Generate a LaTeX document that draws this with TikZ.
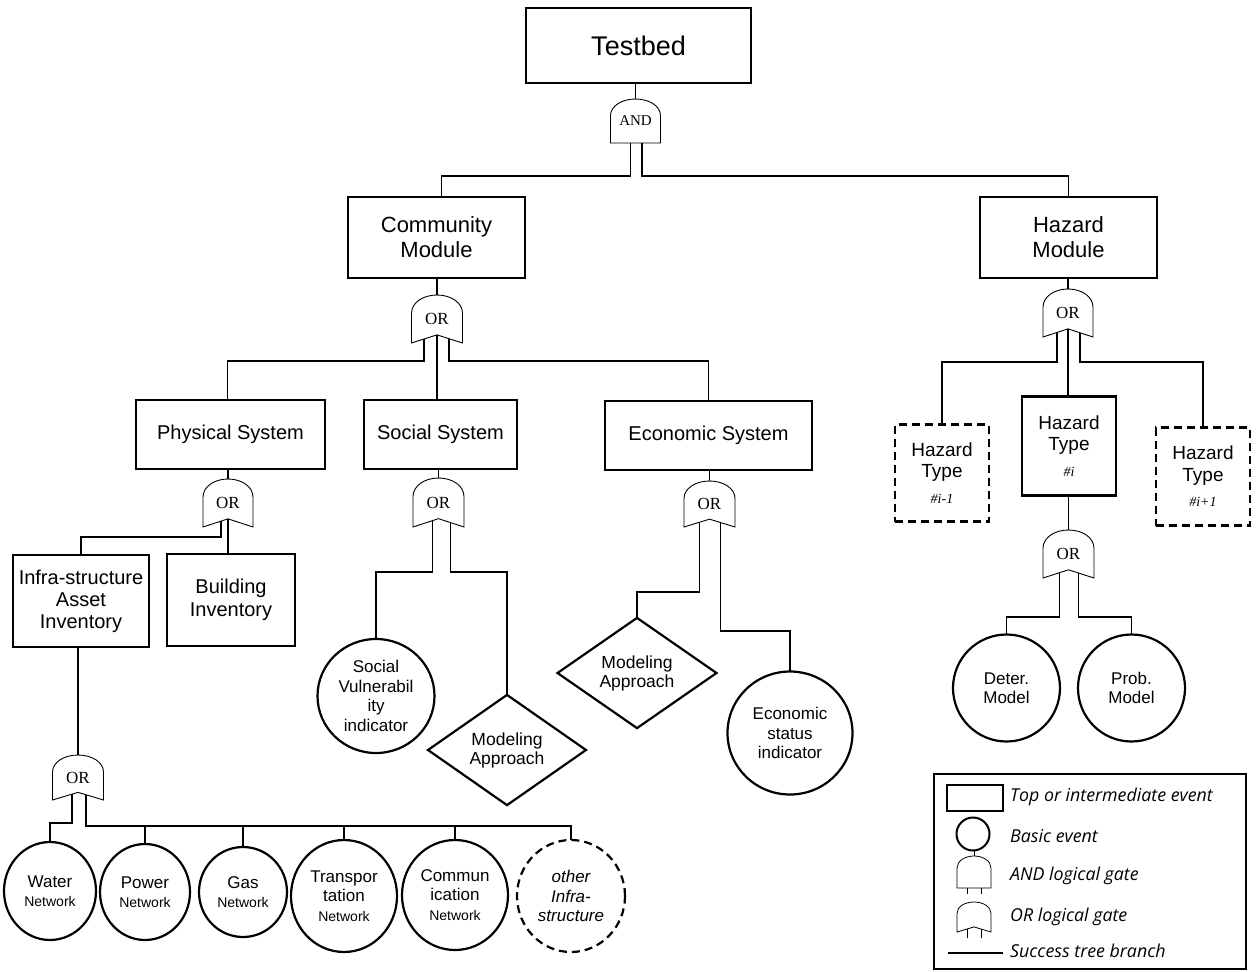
\documentclass[tikz,border=0pt]{standalone}
\usepackage{fontspec}
\setmainfont{Liberation Sans}
\newfontfamily\gatefont{Liberation Serif}
\newfontfamily\legendfont{Open Sans}
\usetikzlibrary{calc,shapes.geometric}

% Gate outlines drawn around a (borderless) gate node
\newcommand{\gatedome}[1]{%
  (#1.south west) -- ($(#1.south west)!0.62!(#1.north west)$)
  .. controls ($(#1.south west)!0.84!(#1.north west)$) and ($(#1.north)!0.55!(#1.north west)$) .. (#1.north)
  .. controls ($(#1.north)!0.55!(#1.north east)$) and ($(#1.south east)!0.84!(#1.north east)$) .. ($(#1.south east)!0.62!(#1.north east)$)
  -- (#1.south east)}
\newcommand{\andgate}[2][]{\draw[gateline,#1] \gatedome{#2} -- cycle;}
\newcommand{\orgate}[2][]{\draw[gateline,#1] \gatedome{#2} -- ($(#2.south)!0.17!(#2.north)$) -- cycle;}

\begin{document}
\begin{tikzpicture}[x=1pt,y=-1pt,
  event/.style={draw,rectangle,line width=2.4pt,inner sep=0pt,outer sep=0pt,align=center,
                font=\fontsize{20}{23}\selectfont},
  module/.style={event,font=\fontsize{22}{25}\selectfont},
  hazbox/.style={event,font=\fontsize{19}{21.5}\selectfont},
  maybe/.style={dash pattern=on 8pt off 5pt},
  basic/.style={draw,ellipse,line width=2.2pt,inner sep=0pt,outer sep=0pt,align=center,
                font=\fontsize{17}{19.5}\selectfont},
  approach/.style={draw,diamond,line width=2.2pt,inner sep=0pt,outer sep=0pt,align=center,
                font=\fontsize{17.5}{19}\selectfont},
  gate/.style={inner sep=0pt,outer sep=0pt,font=\gatefont\fontsize{17}{17}\selectfont},
  gateline/.style={line width=0.9pt},
  branch/.style={line width=1.3pt},
  legendtext/.style={anchor=west,inner sep=0pt,font=\legendfont\itshape\fontsize{17.8}{19}\selectfont},
]
\useasboundingbox (0,0) rectangle (1259,972);

% ---------- events ----------
\node[event,minimum width=225pt,minimum height=75pt,font=\fontsize{27}{30}\selectfont] (tb) at (638.5,45.5) {Testbed};
\node[module,minimum width=177pt,minimum height=81pt] (cm) at (436.5,237.5) {Community\\Module};
\node[module,minimum width=177pt,minimum height=81pt] (hm) at (1068.5,237.5) {Hazard\\Module};

\node[event,minimum width=189pt,minimum height=69pt] (ps) at (230.5,434.5) {Physical System};
\node[event,minimum width=153pt,minimum height=69pt] (ss) at (440.5,434.5) {Social System};
\node[event,minimum width=207pt,minimum height=69pt] (es) at (708.5,435.5) {Economic System};

\node[event,minimum width=136pt,minimum height=92pt,font=\fontsize{20}{22}\selectfont] (ia) at (81,601) {Infra-structure\\Asset\\Inventory};
\node[event,minimum width=128pt,minimum height=92pt] (bi) at (231,600) {Building\\Inventory};

\node[hazbox,maybe,minimum width=94pt,minimum height=97pt] (hl) at (942,473)
  {Hazard\\Type\\[4pt]{\gatefont\itshape\fontsize{14}{14}\selectfont \#i-1}};
\node[hazbox,minimum width=94pt,minimum height=99pt] (hi) at (1069,446)
  {Hazard\\Type\\[4pt]{\gatefont\itshape\fontsize{14}{14}\selectfont \#i}};
\node[hazbox,maybe,minimum width=94pt,minimum height=98pt] (hr) at (1203,476.5)
  {Hazard\\Type\\[4pt]{\gatefont\itshape\fontsize{14}{14}\selectfont \#i+1}};

% ---------- basic events and approaches ----------
\node[basic,minimum width=117pt,minimum height=114pt] (sv) at (376,696) {Social\\Vulnerabil\\ity\\indicator};
\node[approach,minimum width=158pt,minimum height=105pt] (ma) at (507,750) {Modeling\\Approach};
\node[approach,minimum width=159pt,minimum height=105pt] (mb) at (637,673) {Modeling\\Approach};
\node[basic,minimum width=125pt,minimum height=123pt] (ec) at (790,733) {Economic\\status\\indicator};

\node[basic,minimum width=107pt,minimum height=107pt] (dm) at (1006.5,688) {Deter.\\Model};
\node[basic,minimum width=107pt,minimum height=107pt] (pm) at (1131.5,688) {Prob.\\Model};

\node[basic,minimum width=92pt,minimum height=98pt] (wn) at (50,891) {Water\\{\fontsize{14}{16}\selectfont Network}};
\node[basic,minimum width=90pt,minimum height=96pt] (pn) at (145,892) {Power\\{\fontsize{14}{16}\selectfont Network}};
\node[basic,minimum width=88pt,minimum height=90pt] (gn) at (243,892) {Gas\\{\fontsize{14}{16}\selectfont Network}};
\node[basic,minimum width=106pt,minimum height=112pt] (tn) at (344,896) {Transpor\\tation\\{\fontsize{14}{16}\selectfont Network}};
\node[basic,minimum width=106pt,minimum height=110pt] (cn) at (455,895) {Commun\\ication\\{\fontsize{14}{16}\selectfont Network}};
\node[basic,maybe,minimum width=108pt,minimum height=112pt,font=\itshape\fontsize{17}{19.5}\selectfont] (on) at (571,896) {other\\Infra-\\structure};

% ---------- gates ----------
\node[gate,minimum width=50pt,minimum height=44pt,font=\gatefont\fontsize{15}{15}\selectfont] (g0) at (635.5,121) {AND};
\node[gate,minimum width=51pt,minimum height=48pt] (gc) at (437,319) {OR};
\node[gate,minimum width=50pt,minimum height=48pt] (gh) at (1068,313) {OR};
\node[gate,minimum width=50pt,minimum height=48pt] (gp) at (228,503) {OR};
\node[gate,minimum width=51pt,minimum height=49pt] (gs) at (438.5,502.5) {OR};
\node[gate,minimum width=51pt,minimum height=46pt] (ge) at (709.5,504) {OR};
\node[gate,minimum width=51pt,minimum height=45pt] (gi) at (78,777.5) {OR};
\node[gate,minimum width=51pt,minimum height=48pt] (gd) at (1068.5,554) {OR};

\andgate{g0}
\orgate{gc} \orgate{gh} \orgate{gp} \orgate{gs} \orgate{ge} \orgate{gi} \orgate{gd}

% ---------- branches ----------
\draw[branch] (g0.north) -- (g0.north |- tb.south);
\draw[branch] ($(g0.south)+(-5,0)$) -- ++(0,33) -| ($(cm.north)+(5,0)$);
\draw[branch] ($(g0.south)+(6.5,0)$) -- ++(0,33) -| (hm.north);

\draw[branch] (gc.north) -- (gc.north |- cm.south);
\draw[branch] ($(gc.south)+(-13,-3.9)$) -- ++(0,21.9) -| ($(ps.north)+(-3,0)$);
\draw[branch] ($(gc.south)+(0,-8.2)$) -- (gc.south |- ss.north);
\draw[branch] ($(gc.south)+(12,-4.2)$) -- ++(0,22.2) -| (es.north);

\draw[branch] (gh.north) -- (gh.north |- hm.south);
\draw[branch] ($(gh.south)+(-11,-4.5)$) -- ++(0,29.5) -| (hl.north);
\draw[branch] ($(gh.south)+(0,-8.2)$) -- (gh.south |- hi.north);
\draw[branch] ($(gh.south)+(12,-4.2)$) -- ++(0,29.2) -| (hr.north);

\draw[branch] (gp.north) -- (gp.north |- ps.south);
\draw[branch] ($(gp.south)+(-7,-5.8)$) -- ++(0,15.8) -| (ia.north);
\draw[branch] ($(gp.south)+(0,-8.2)$) -- (gp.south |- bi.north);

\draw[branch] (gs.north) -- (gs.north |- ss.south);
\draw[branch] ($(gs.south)+(-6,-6.1)$) -- ++(0,51.1) -| (sv.north);
\draw[branch] ($(gs.south)+(12,-4.3)$) -- ++(0,49.3) -| (ma.north);

\draw[branch] (ge.north) -- (ge.north |- es.south);
\draw[branch] ($(ge.south)+(-10,-4.8)$) -- ++(0,69.8) -| (mb.north);
\draw[branch] ($(ge.south)+(11,-4.4)$) -- ++(0,108.4) -| (ec.north);

\draw[branch] (gd.north) -- (gd.north |- hi.south);
\draw[branch] ($(gd.south)+(-9,-5.3)$) -- ++(0,44.3) -| (dm.north);
\draw[branch] ($(gd.south)+(10,-5)$) -- ++(0,44) -| (pm.north);

\draw[branch] (gi.north) -- (gi.north |- ia.south);
\draw[branch] ($(gi.south)+(-6,-5.85)$) -- ++(0,28.85) -| (wn.north);
\draw[branch] ($(gi.south)+(8,-5.2)$) -- ++(0,31.2) coordinate (bus) -| (on.north);
\foreach \n in {pn,gn,tn,cn} \draw[branch] (\n.north) -- (\n.north |- bus);

% ---------- legend ----------
\node[draw,line width=2.2pt,inner sep=0pt,outer sep=0pt,minimum width=312pt,minimum height=195pt] (legend) at (1090,871.5) {};
\node[draw,line width=2.4pt,inner sep=0pt,minimum width=56pt,minimum height=26pt] (lr) at (975,798) {};
\node[draw,circle,line width=2pt,inner sep=0pt,minimum size=33pt] (lc) at (973,834) {};
\node[inner sep=0pt,outer sep=0pt,minimum width=34pt,minimum height=32pt] (la) at (974,872) {};
\node[inner sep=0pt,outer sep=0pt,minimum width=34pt,minimum height=30pt] (lo) at (974,917) {};
\andgate[line width=0.8pt]{la}
\orgate[line width=0.8pt]{lo}
\draw[line width=0.8pt] (la.north) -- ++(0,-6);
\draw[line width=0.8pt] ($(la.south)+(-7,0)$) -- ++(0,6);
\draw[line width=0.8pt] ($(la.south)+(7,0)$) -- ++(0,6);
\draw[line width=0.8pt] ($(lo.south)+(-7,-3)$) -- ++(0,9);
\draw[line width=0.8pt] ($(lo.south)+(7,-3)$) -- ++(0,9);
\coordinate (lla) at (948,953);
\coordinate (llb) at (1003,953);
\draw[line width=2.6pt] (lla) -- (llb);
\node[legendtext] (t1) at (1010,797) {Top or intermediate event};
\node[legendtext] (t2) at (1010,836) {Basic event};
\node[legendtext] (t3) at (1010,876) {AND logical gate};
\node[legendtext] (t4) at (1010,917) {OR logical gate};
\node[legendtext] (t5) at (1010,951) {Success tree branch};
\end{tikzpicture}
\end{document}
